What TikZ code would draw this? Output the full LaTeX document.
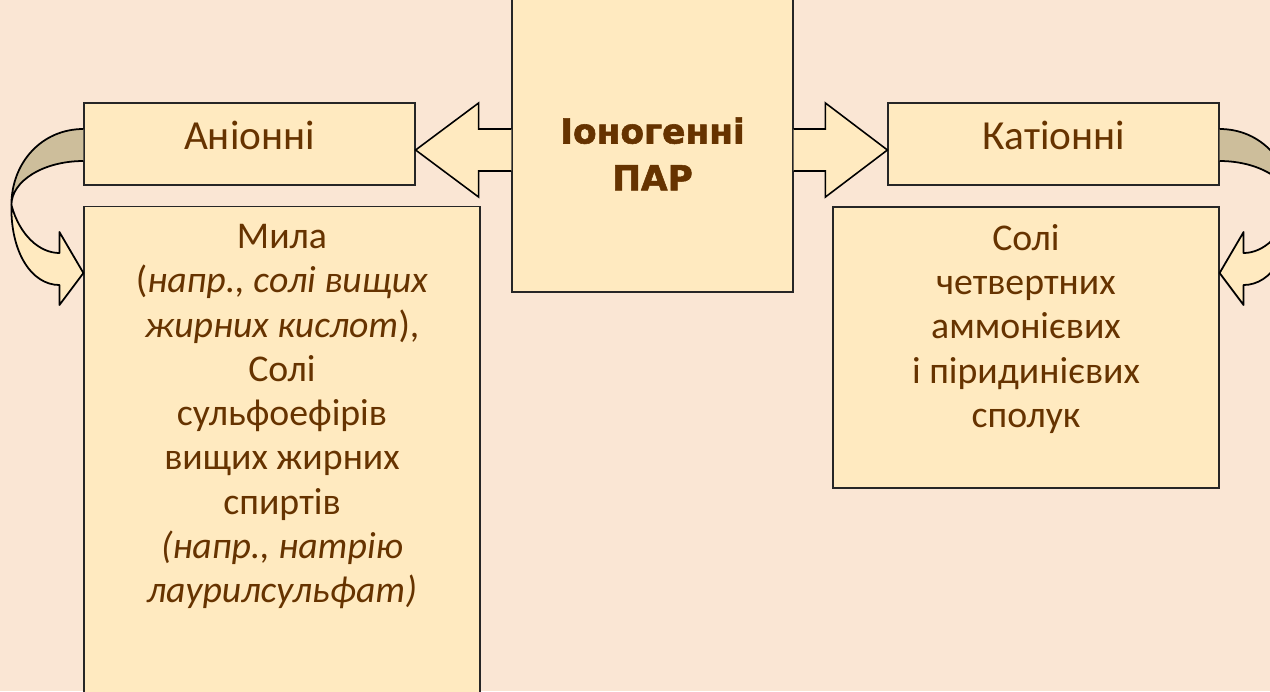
\documentclass[tikz,border=0pt]{standalone}
\usepackage{fontspec}
\setmainfont{Carlito}
\newfontfamily\headfont{DejaVu Sans Bold}[FakeBold=1.6]
\usetikzlibrary{calc}

\definecolor{pagebg}{RGB}{250,230,212}
\definecolor{boxfill}{RGB}{255,234,192}
\definecolor{backfill}{RGB}{205,190,155}
\definecolor{inkbrown}{RGB}{102,51,0}

\begin{document}
\begin{tikzpicture}[
  x=0.02cm, y=-0.02cm,
  box/.style={draw=black!85, line width=0.7pt, fill=boxfill, inner sep=0pt},
  hdr/.style={box, minimum width=6.62cm, minimum height=1.64cm, text=inkbrown,
              font=\fontsize{23.5}{28}\selectfont, text depth=0.36cm},
  body/.style={align=center, anchor=north, inner sep=0pt, text=inkbrown,
               font=\fontsize{21.5}{25.2}\selectfont},
  title/.style={align=center, anchor=north, inner sep=0pt, text=inkbrown,
                font=\headfont\fontsize{19.6}{26.6}\selectfont},
  blk/.style={draw=black, line width=0.9pt, fill=boxfill, line join=miter},
  bent/.style={draw=black, line width=1pt, line join=round}
]
\useasboundingbox (0,0) rectangle (1270,691);
\clip (0,0) rectangle (1270,691);
\fill[pagebg] (0,0) rectangle (1270,691);

% boxes
\node[box, minimum width=5.62cm, minimum height=5.88cm] (ionic) at (652.5,145) {};
\node[hdr] (anion)  at (249.5,144)  {Аніонні};
\node[hdr] (cation) at (1053.5,144) {Катіонні};
\node[box, minimum width=7.92cm, minimum height=9.9cm]  (soap)  at (282,454)    {};
\node[box, minimum width=7.72cm, minimum height=5.62cm] (salts) at (1026,347.5) {};

% texts
\node[title] (ionictext) at (ionic.center |- 0,117) {Іоногенні\\ПАР};
\node[body] (soaptext) at (soap.center |- 0,224) {Мила\\
  (\textit{напр., солі вищих}\\
  \textit{жирних кислот}),\\
  Солі\\
  сульфоефірів\\
  вищих жирних\\
  спиртів\\
  \textit{(напр., натрію}\\
  \textit{лаурилсульфат)}};
\node[body] (saltstext) at (salts.center |- 0,224) {Солі\\четвертних\\аммонієвих\\і піридинієвих\\сполук};

% block arrows
\coordinate (ltip) at (anion.east |- 0,150);
\coordinate (rtip) at (cation.west |- 0,150);
\draw[blk] (ionic.west |- 0,171) -- ($(ltip)+(63,21)$) -- ($(ltip)+(63,47)$) -- (ltip)
  -- ($(ltip)+(63,-47)$) -- ($(ltip)+(63,-21)$) -- (ionic.west |- 0,129);
\draw[blk] (ionic.east |- 0,171) -- ($(rtip)+(-62,21)$) -- ($(rtip)+(-62,47)$) -- (rtip)
  -- ($(rtip)+(-62,-47)$) -- ($(rtip)+(-62,-21)$) -- (ionic.east |- 0,129);

% bent arrows
\begin{scope}[shift={(anion.west)}]
  \draw[bent, fill=backfill] (0,-15) .. controls (-42,-15) and (-72,19) .. (-72,61)
    .. controls (-72,37) and (-40,17) .. (0,17);
  \draw[bent, fill=boxfill] (-72,61) .. controls (-64,91) and (-44,109) .. (-24,109)
    -- (-24,88) -- (0,129) -- (-24,161) -- (-24,141)
    .. controls (-52,141) and (-73,108) .. (-72,61) -- cycle;
\end{scope}
\begin{scope}[shift={(cation.east)}, xscale=-1]
  \draw[bent, fill=backfill] (0,-15) .. controls (-42,-15) and (-72,19) .. (-72,61)
    .. controls (-72,37) and (-40,17) .. (0,17);
  \draw[bent, fill=boxfill] (-72,61) .. controls (-64,91) and (-44,109) .. (-24,109)
    -- (-24,88) -- (0,129) -- (-24,161) -- (-24,141)
    .. controls (-52,141) and (-73,108) .. (-72,61) -- cycle;
\end{scope}
\end{tikzpicture}
\end{document}
